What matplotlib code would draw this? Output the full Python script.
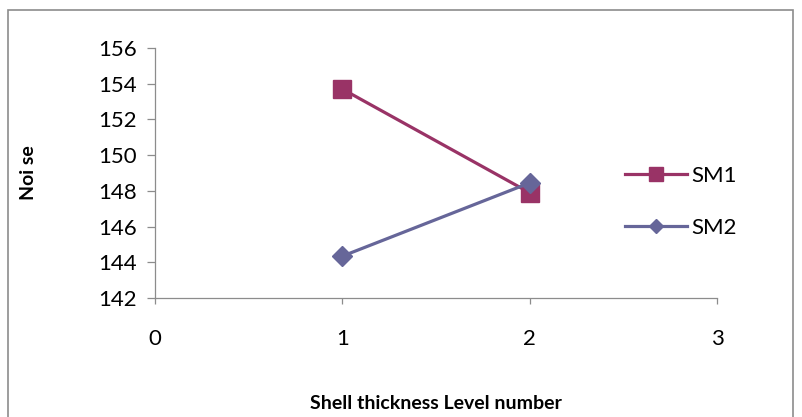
import matplotlib.pyplot as plt
from matplotlib.patches import Rectangle

# data
levels = [1, 2]
sm1 = [153.7, 147.9]
sm2 = [144.35, 148.45]
xticks = [0, 1, 2, 3]
yticks = [142, 144, 146, 148, 150, 152, 154, 156]

plt.rcParams['font.family'] = ['Lato', 'DejaVu Sans']

fig = plt.figure(figsize=(8.03, 4.17), dpi=100)
ax = fig.add_axes([0.193, 0.285, 0.700, 0.600])

# outer chart border
fig.patches.append(Rectangle((0.010, -0.01), 0.978, 0.987, transform=fig.transFigure,
                             fill=False, edgecolor='#8c8c8c', linewidth=1.2))

ax.plot(levels, sm1, color='#993366', marker='s', markersize=13, linewidth=2.3, label='SM1')
ax.plot(levels, sm2, color='#666699', marker='D', markersize=10, linewidth=2.3, label='SM2')

ax.set_xlim(0, 3)
ax.set_ylim(142, 156)
ax.set_xticks(xticks)
ax.set_yticks(yticks)
ax.tick_params(axis='both', labelsize=16, color='#8c8c8c', length=6, width=0.9)
ax.tick_params(axis='x', pad=18, length=4)
ax.tick_params(axis='y', pad=7)
for s in ['top', 'right']:
    ax.spines[s].set_visible(False)
for s in ['left', 'bottom']:
    ax.spines[s].set_color('#8c8c8c')
    ax.spines[s].set_linewidth(0.9)

ax.set_xlabel('Shell thickness Level number', fontsize=14, fontweight='bold', labelpad=33)
ax.set_ylabel('Noi se', fontsize=14, fontweight='bold', labelpad=44)

ax.legend(loc='center left', bbox_to_anchor=(0.80, 0.385), frameon=False, fontsize=16,
          handlelength=2.8, labelspacing=1.45, handletextpad=0.2, markerscale=0.75)

fig.savefig('out.png', dpi=100)
